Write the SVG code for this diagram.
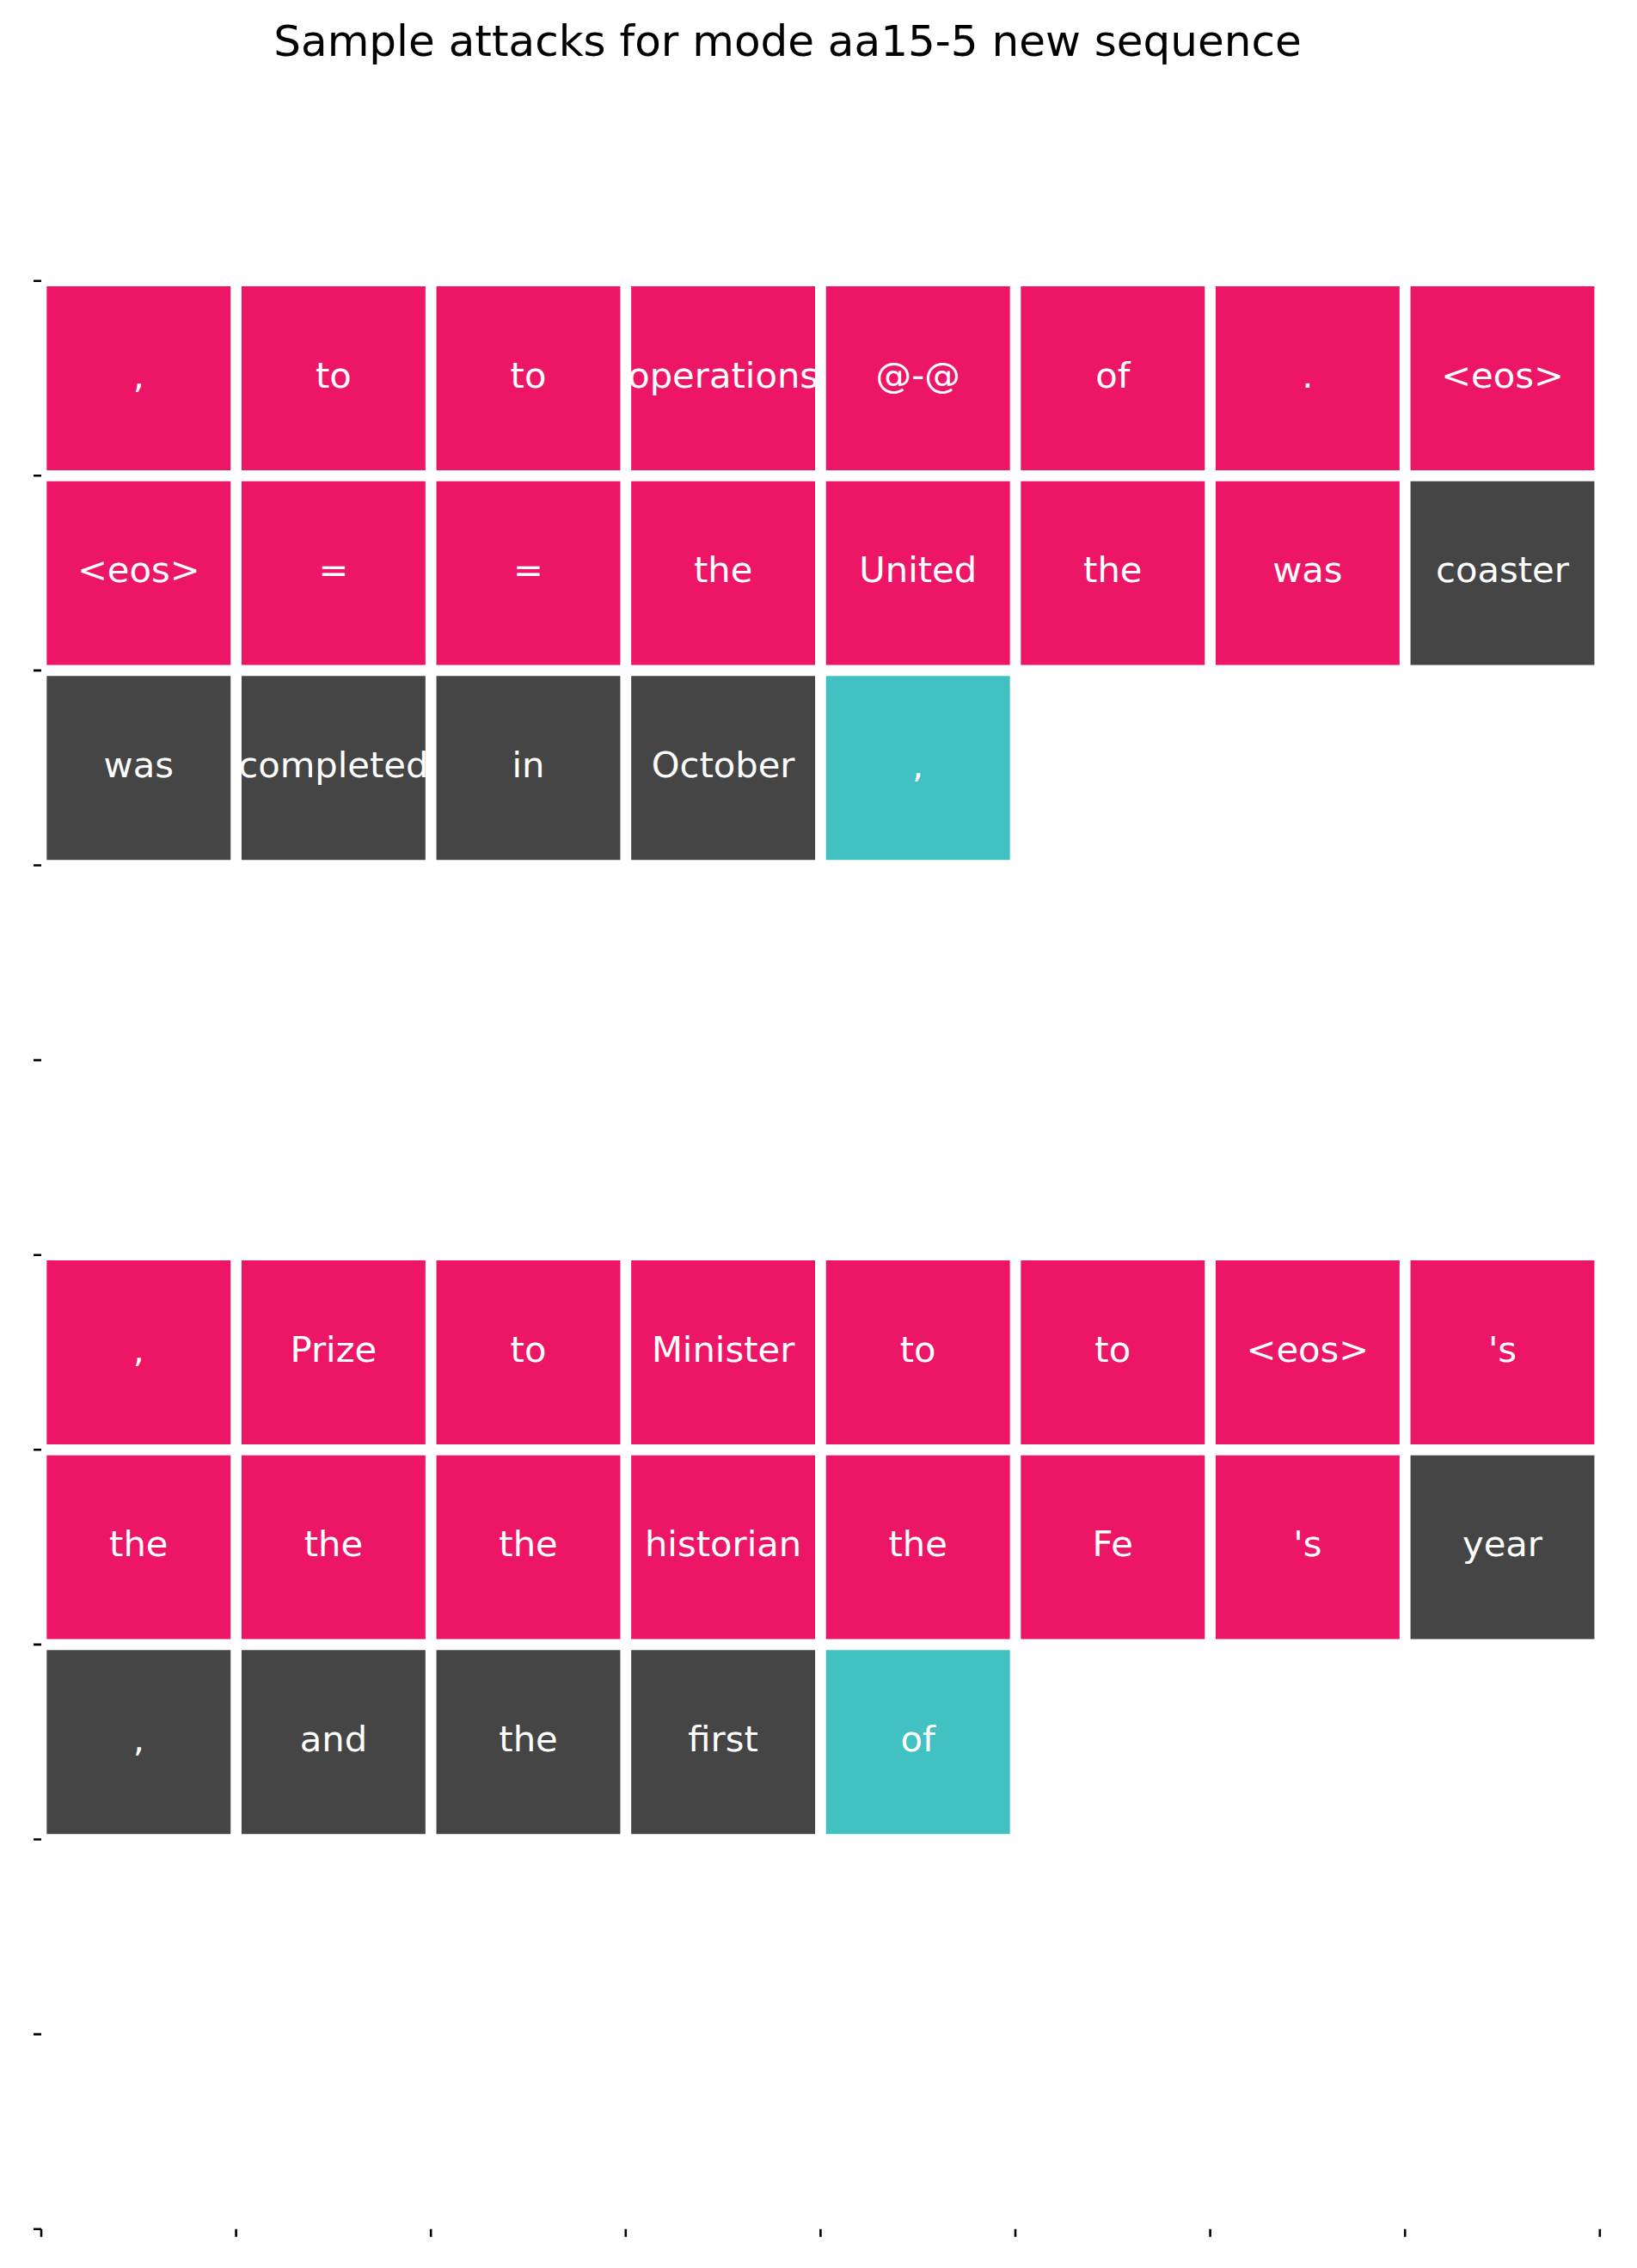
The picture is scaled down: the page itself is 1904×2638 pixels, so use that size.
<svg xmlns="http://www.w3.org/2000/svg" width="1904" height="2638" viewBox="0 0 1904 2638">
<style>
.p{fill:#ED1566}
.d{fill:#454545}
.t{fill:#42C1C3}
.lbl{font-family:"DejaVu Sans",sans-serif;font-size:41.7px;fill:#ffffff;text-anchor:middle}
.title{font-family:"DejaVu Sans",sans-serif;font-size:50px;fill:#000000;text-anchor:middle}
.grid{stroke:#ffffff;stroke-width:12.7;fill:none}
.tick{stroke:#000000;stroke-width:2.6;fill:none}
</style>
<rect x="0" y="0" width="1904" height="2638" fill="#ffffff"/>
<text class="title" x="916" y="65">Sample attacks for mode aa15-5 new sequence</text>

<g id="block1">
<g id="c0_0"><rect class="p" x="48" y="326.7" width="226.6" height="226.6"/><text class="lbl" x="161.3" y="450.5">,</text></g>
<g id="c0_1"><rect class="p" x="274.6" y="326.7" width="226.6" height="226.6"/><text class="lbl" x="387.9" y="450.5">to</text></g>
<g id="c0_2"><rect class="p" x="501.2" y="326.7" width="226.6" height="226.6"/><text class="lbl" x="614.5" y="450.5">to</text></g>
<g id="c0_3"><rect class="p" x="727.8" y="326.7" width="226.6" height="226.6"/><text class="lbl" x="841.1" y="450.5">operations</text></g>
<g id="c0_4"><rect class="p" x="954.4" y="326.7" width="226.6" height="226.6"/><text class="lbl" x="1067.7" y="450.5">@-@</text></g>
<g id="c0_5"><rect class="p" x="1181" y="326.7" width="226.6" height="226.6"/><text class="lbl" x="1294.3" y="450.5">of</text></g>
<g id="c0_6"><rect class="p" x="1407.6" y="326.7" width="226.6" height="226.6"/><text class="lbl" x="1520.9" y="450.5">.</text></g>
<g id="c0_7"><rect class="p" x="1634.2" y="326.7" width="226.6" height="226.6"/><text class="lbl" x="1747.5" y="450.5">&lt;eos&gt;</text></g>

<g id="c1_0"><rect class="p" x="48" y="553.3" width="226.6" height="226.6"/><text class="lbl" x="161.3" y="677.1">&lt;eos&gt;</text></g>
<g id="c1_1"><rect class="p" x="274.6" y="553.3" width="226.6" height="226.6"/><text class="lbl" x="387.9" y="677.1">=</text></g>
<g id="c1_2"><rect class="p" x="501.2" y="553.3" width="226.6" height="226.6"/><text class="lbl" x="614.5" y="677.1">=</text></g>
<g id="c1_3"><rect class="p" x="727.8" y="553.3" width="226.6" height="226.6"/><text class="lbl" x="841.1" y="677.1">the</text></g>
<g id="c1_4"><rect class="p" x="954.4" y="553.3" width="226.6" height="226.6"/><text class="lbl" x="1067.7" y="677.1">United</text></g>
<g id="c1_5"><rect class="p" x="1181" y="553.3" width="226.6" height="226.6"/><text class="lbl" x="1294.3" y="677.1">the</text></g>
<g id="c1_6"><rect class="p" x="1407.6" y="553.3" width="226.6" height="226.6"/><text class="lbl" x="1520.9" y="677.1">was</text></g>
<g id="c1_7"><rect class="d" x="1634.2" y="553.3" width="226.6" height="226.6"/><text class="lbl" x="1747.5" y="677.1">coaster</text></g>

<g id="c2_0"><rect class="d" x="48" y="779.9" width="226.6" height="226.6"/><text class="lbl" x="161.3" y="903.7">was</text></g>
<g id="c2_1"><rect class="d" x="274.6" y="779.9" width="226.6" height="226.6"/><text class="lbl" x="387.9" y="903.7">completed</text></g>
<g id="c2_2"><rect class="d" x="501.2" y="779.9" width="226.6" height="226.6"/><text class="lbl" x="614.5" y="903.7">in</text></g>
<g id="c2_3"><rect class="d" x="727.8" y="779.9" width="226.6" height="226.6"/><text class="lbl" x="841.1" y="903.7">October</text></g>
<g id="c2_4"><rect class="t" x="954.4" y="779.9" width="226.6" height="226.6"/><text class="lbl" x="1067.7" y="903.7">,</text></g>
</g>

<g id="block2">
<g id="c5_0"><rect class="p" x="48" y="1459.7" width="226.6" height="226.6"/><text class="lbl" x="161.3" y="1583.5">,</text></g>
<g id="c5_1"><rect class="p" x="274.6" y="1459.7" width="226.6" height="226.6"/><text class="lbl" x="387.9" y="1583.5">Prize</text></g>
<g id="c5_2"><rect class="p" x="501.2" y="1459.7" width="226.6" height="226.6"/><text class="lbl" x="614.5" y="1583.5">to</text></g>
<g id="c5_3"><rect class="p" x="727.8" y="1459.7" width="226.6" height="226.6"/><text class="lbl" x="841.1" y="1583.5">Minister</text></g>
<g id="c5_4"><rect class="p" x="954.4" y="1459.7" width="226.6" height="226.6"/><text class="lbl" x="1067.7" y="1583.5">to</text></g>
<g id="c5_5"><rect class="p" x="1181" y="1459.7" width="226.6" height="226.6"/><text class="lbl" x="1294.3" y="1583.5">to</text></g>
<g id="c5_6"><rect class="p" x="1407.6" y="1459.7" width="226.6" height="226.6"/><text class="lbl" x="1520.9" y="1583.5">&lt;eos&gt;</text></g>
<g id="c5_7"><rect class="p" x="1634.2" y="1459.7" width="226.6" height="226.6"/><text class="lbl" x="1747.5" y="1583.5">'s</text></g>

<g id="c6_0"><rect class="p" x="48" y="1686.3" width="226.6" height="226.6"/><text class="lbl" x="161.3" y="1810.1">the</text></g>
<g id="c6_1"><rect class="p" x="274.6" y="1686.3" width="226.6" height="226.6"/><text class="lbl" x="387.9" y="1810.1">the</text></g>
<g id="c6_2"><rect class="p" x="501.2" y="1686.3" width="226.6" height="226.6"/><text class="lbl" x="614.5" y="1810.1">the</text></g>
<g id="c6_3"><rect class="p" x="727.8" y="1686.3" width="226.6" height="226.6"/><text class="lbl" x="841.1" y="1810.1">historian</text></g>
<g id="c6_4"><rect class="p" x="954.4" y="1686.3" width="226.6" height="226.6"/><text class="lbl" x="1067.7" y="1810.1">the</text></g>
<g id="c6_5"><rect class="p" x="1181" y="1686.3" width="226.6" height="226.6"/><text class="lbl" x="1294.3" y="1810.1">Fe</text></g>
<g id="c6_6"><rect class="p" x="1407.6" y="1686.3" width="226.6" height="226.6"/><text class="lbl" x="1520.9" y="1810.1">'s</text></g>
<g id="c6_7"><rect class="d" x="1634.2" y="1686.3" width="226.6" height="226.6"/><text class="lbl" x="1747.5" y="1810.1">year</text></g>

<g id="c7_0"><rect class="d" x="48" y="1912.9" width="226.6" height="226.6"/><text class="lbl" x="161.3" y="2036.7">,</text></g>
<g id="c7_1"><rect class="d" x="274.6" y="1912.9" width="226.6" height="226.6"/><text class="lbl" x="387.9" y="2036.7">and</text></g>
<g id="c7_2"><rect class="d" x="501.2" y="1912.9" width="226.6" height="226.6"/><text class="lbl" x="614.5" y="2036.7">the</text></g>
<g id="c7_3"><rect class="d" x="727.8" y="1912.9" width="226.6" height="226.6"/><text class="lbl" x="841.1" y="2036.7">first</text></g>
<g id="c7_4"><rect class="t" x="954.4" y="1912.9" width="226.6" height="226.6"/><text class="lbl" x="1067.7" y="2036.7">of</text></g>
</g>

<g id="gridlines" class="grid">
<path d="M48 320V2600M274.6 320V2600M501.2 320V2600M727.8 320V2600M954.4 320V2600M1181 320V2600M1407.6 320V2600M1634.2 320V2600M1860.8 320V2600"/>
<path d="M40 326.7H1868M40 553.3H1868M40 779.9H1868M40 1006.5H1868M40 1233.1H1868M40 1459.7H1868M40 1686.3H1868M40 1912.9H1868M40 2139.5H1868M40 2366.1H1868M40 2592.7H1868"/>
</g>

<g id="ticks" class="tick">
<path d="M39 326.7H48M39 553.3H48M39 779.9H48M39 1006.5H48M39 1233.1H48M39 1459.7H48M39 1686.3H48M39 1912.9H48M39 2139.5H48M39 2366.1H48M39 2592.7H48"/>
<path d="M48 2592.7V2601.7M274.6 2592.7V2601.7M501.2 2592.7V2601.7M727.8 2592.7V2601.7M954.4 2592.7V2601.7M1181 2592.7V2601.7M1407.6 2592.7V2601.7M1634.2 2592.7V2601.7M1860.8 2592.7V2601.7"/>
</g>
</svg>
